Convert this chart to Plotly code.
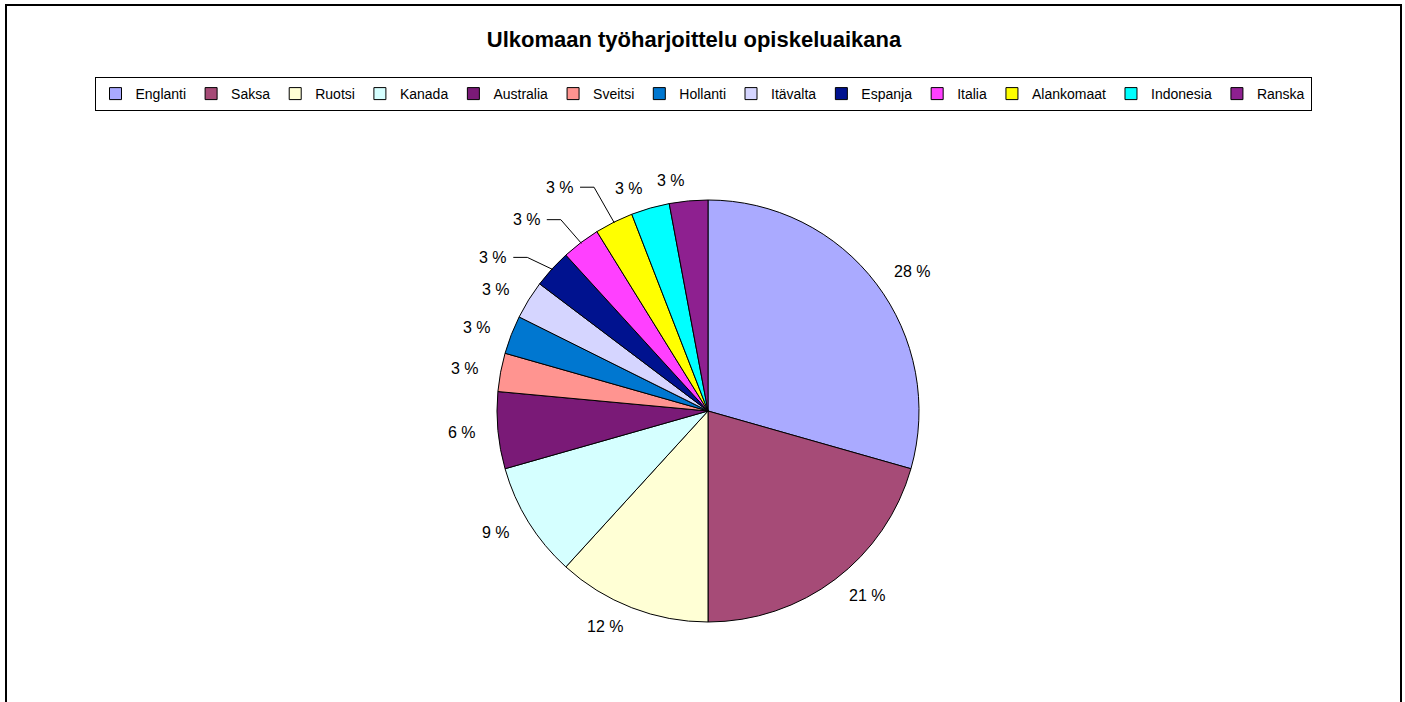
import math
import plotly.graph_objects as go

countries = ["Englanti", "Saksa", "Ruotsi", "Kanada", "Australia", "Sveitsi", "Hollanti",
             "Itävalta", "Espanja", "Italia", "Alankomaat", "Indonesia", "Ranska"]
counts = [10, 7, 4, 3, 2, 1, 1, 1, 1, 1, 1, 1, 1]
pct_labels = ["28 %", "21 %", "12 %", "9 %", "6 %", "3 %", "3 %", "3 %", "3 %", "3 %", "3 %", "3 %", "3 %"]
colors = ["#AAAAFF", "#A64B77", "#FFFFD5", "#D5FFFF", "#7A1A77", "#FF9490", "#0077D0",
          "#D5D5FF", "#00128F", "#FF40FF", "#FFFF00", "#00FFFF", "#8E2090"]

# layout / style settings (pixels)
W, H = 1405, 702
cx, cy, r = 708, 411, 211
label_gap = 20
# labels that were dragged away in the original, drawn with leader lines
moved_labels = {"Espanja": (-28, 2), "Italia": (-26, -7), "Alankomaat": (-29, -17)}
label_font = dict(family="Liberation Sans, Arial", size=16, color="#000000")


def px(x):
    return x / W


def py(y):
    return 1 - y / H


fig = go.Figure(go.Pie(
    labels=countries,
    values=counts,
    textinfo="none",
    sort=False,
    direction="clockwise",
    rotation=0,
    marker=dict(colors=colors, line=dict(color="#000000", width=1)),
    domain=dict(x=[px(cx - r), px(cx + r)], y=[py(cy + r), py(cy - r)]),
    hoverinfo="label+percent",
))

total = sum(counts)
annotations = []
shapes = [dict(type="rect", xref="paper", yref="paper",
               x0=px(6), x1=px(1401), y0=-0.05, y1=py(5),
               line=dict(color="#000000", width=2))]
cum = 0
for name, v, lab in zip(countries, counts, pct_labels):
    th = 2 * math.pi * (cum + v / 2) / total
    cum += v
    s, c = math.sin(th), math.cos(th)
    R = r + label_gap
    ax, ay = cx + R * s, cy - R * c
    xanchor = "left" if s > 0.05 else ("right" if s < -0.05 else "center")
    if name in moved_labels:
        dx, dy = moved_labels[name]
        ax, ay = ax + dx, ay + dy
        ex, ey = cx + (r - 1) * s, cy - (r - 1) * c
        shapes.append(dict(type="path", xref="paper", yref="paper",
                           path=f"M {px(ax + 4)} {py(ay)} L {px(ax + 18)} {py(ay)} L {px(ex)} {py(ey)}",
                           line=dict(color="#000000", width=1)))
    annotations.append(dict(x=px(ax), y=py(ay), xref="paper", yref="paper",
                            text=lab, showarrow=False, xanchor=xanchor, yanchor="middle",
                            font=label_font))

fig.update_layout(
    width=W, height=H,
    margin=dict(l=0, r=0, t=0, b=0),
    paper_bgcolor="#FFFFFF",
    plot_bgcolor="#FFFFFF",
    font=dict(family="Liberation Sans, Arial", size=14, color="#000000"),
    title=dict(text="<b>Ulkomaan työharjoittelu opiskeluaikana</b>",
               x=px(694), xanchor="center", y=py(39), yanchor="middle",
               font=dict(size=22, family="Liberation Sans, Arial", color="#000000")),
    legend=dict(orientation="h", x=px(703), xanchor="center", y=py(77), yanchor="top",
                bordercolor="#000000", borderwidth=1, bgcolor="#FFFFFF",
                font=dict(size=14, family="Liberation Sans, Arial"),
                itemwidth=30, tracegroupgap=0),
    annotations=annotations,
    shapes=shapes,
)

fig.write_html("out.html", config={"displayModeBar": False},
               post_script="document.body.style.margin='0px';")
